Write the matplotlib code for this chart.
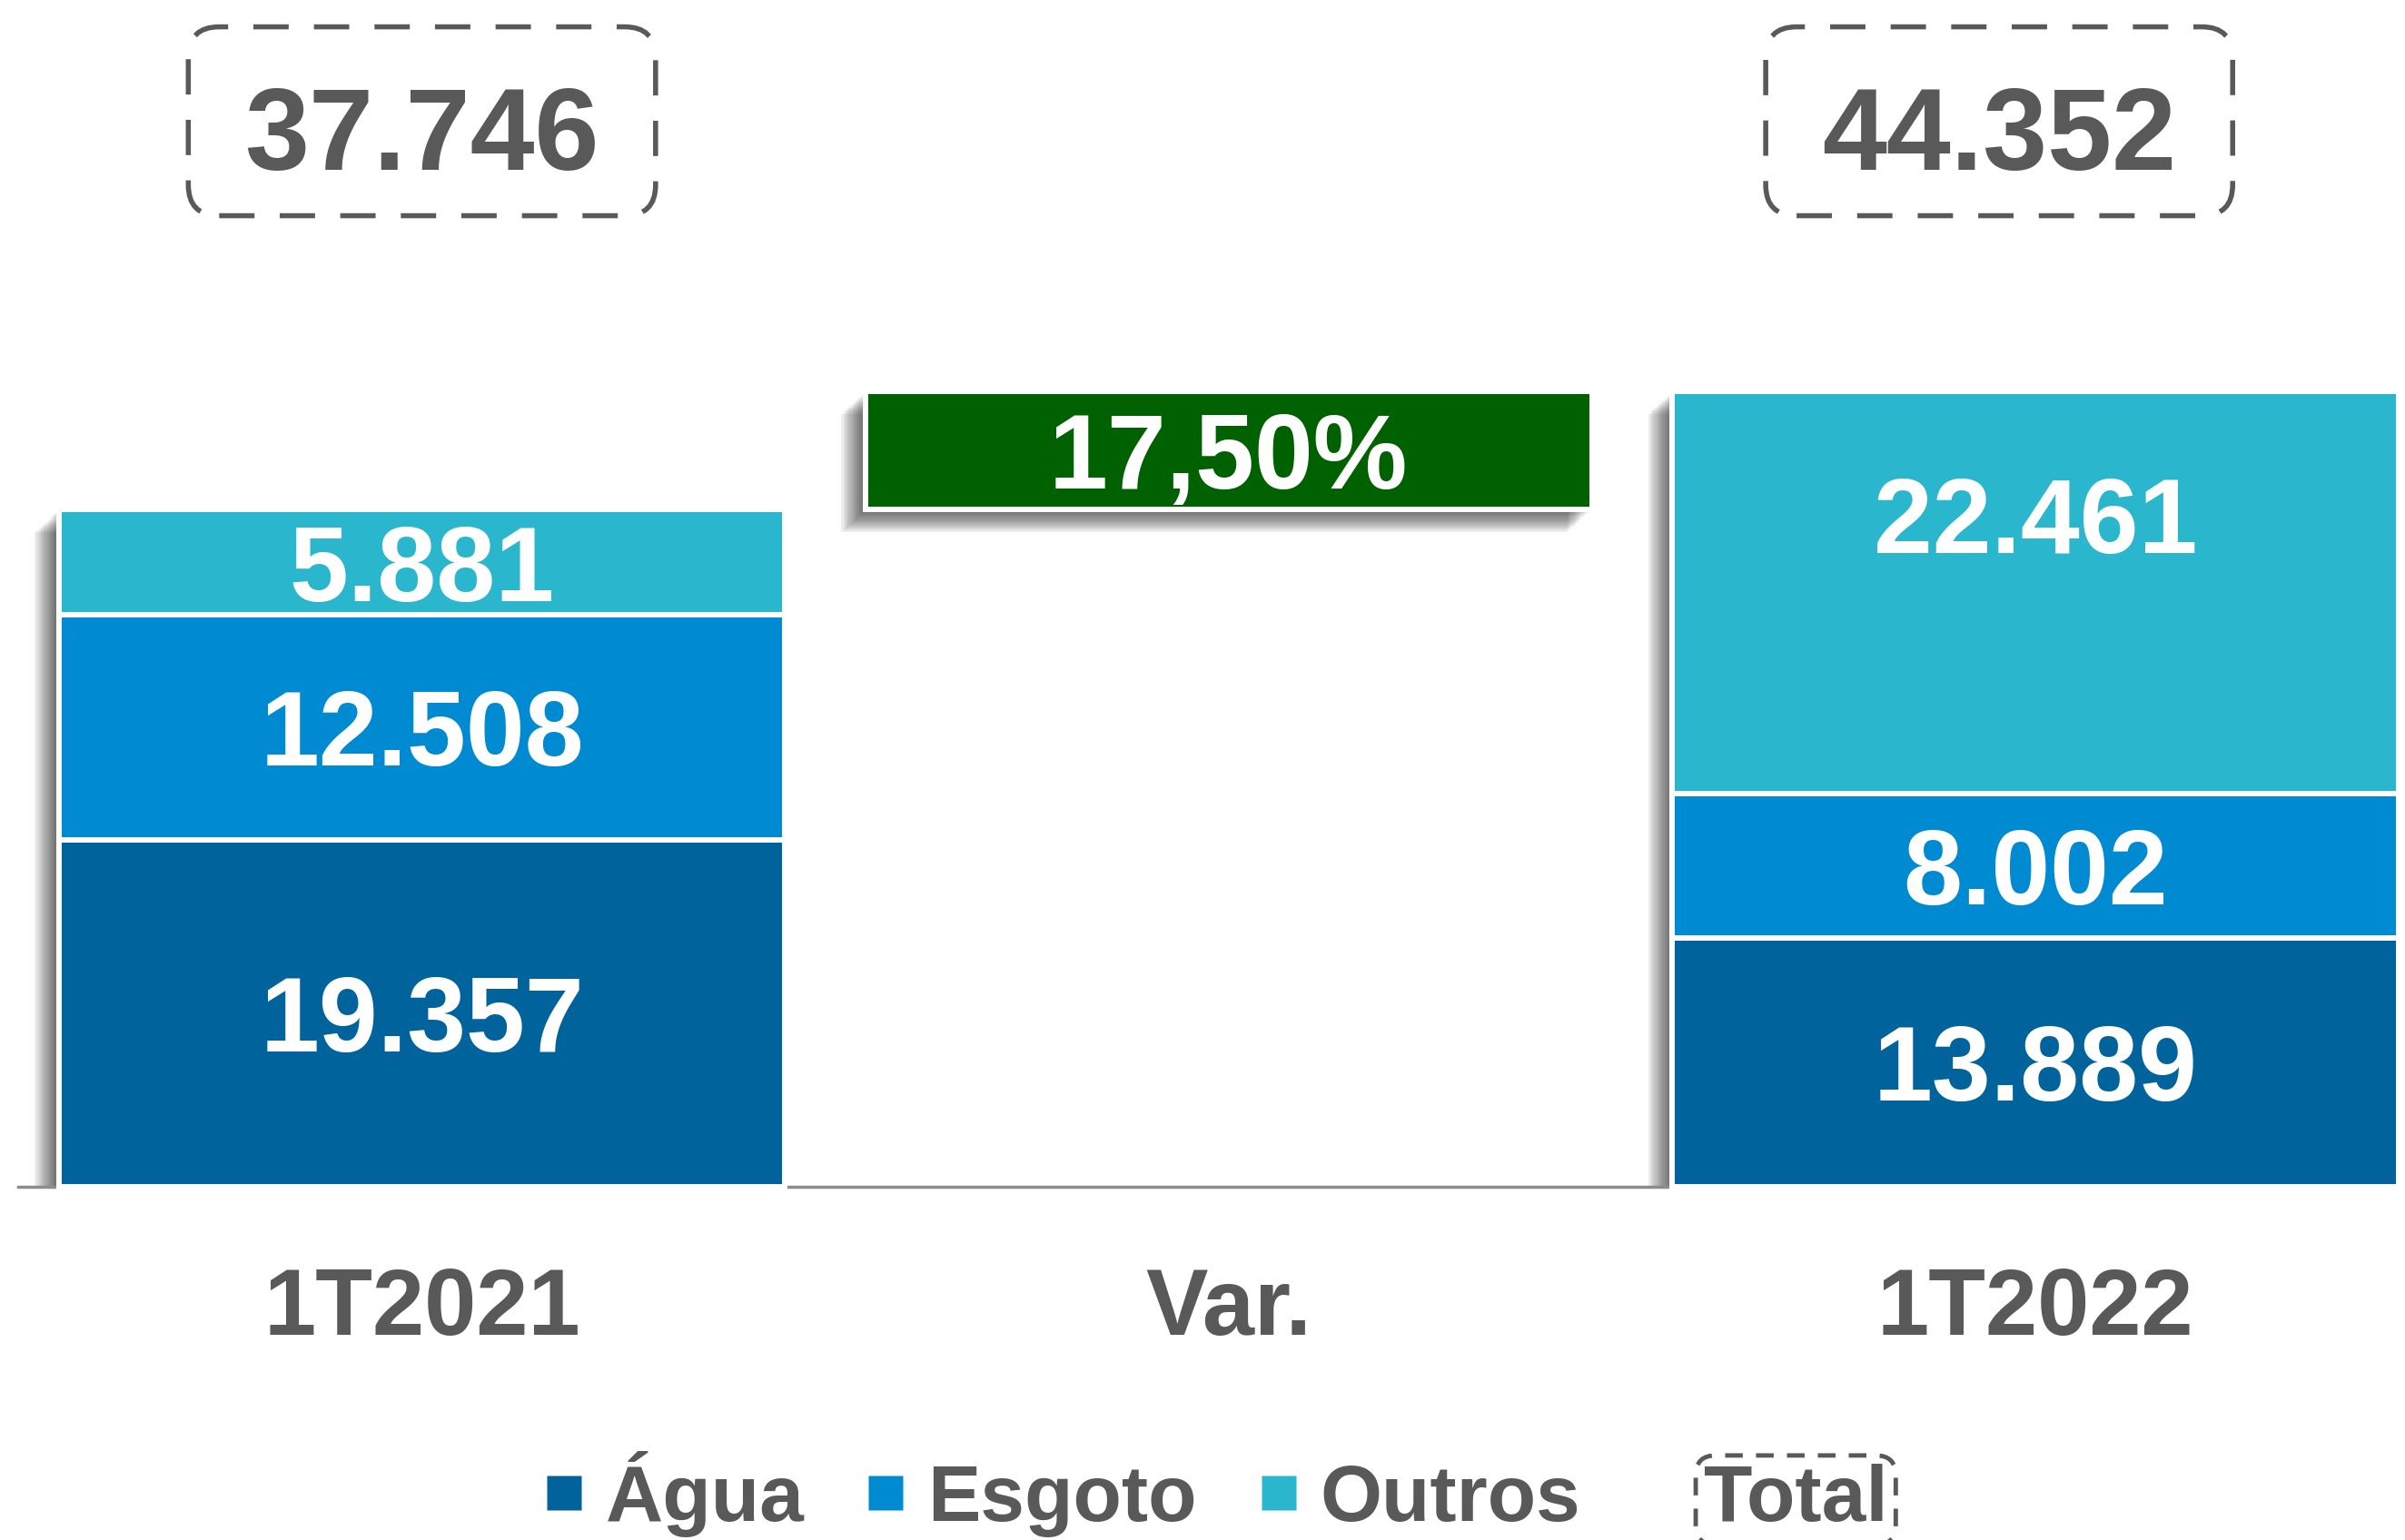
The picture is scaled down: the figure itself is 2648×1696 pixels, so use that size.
import matplotlib
matplotlib.use("Agg")
import matplotlib.pyplot as plt
from matplotlib.patches import Rectangle, FancyBboxPatch
from matplotlib.lines import Line2D
from matplotlib.transforms import IdentityTransform

plt.rcParams['font.family'] = ['Liberation Sans', 'DejaVu Sans']
plt.rcParams['font.weight'] = 'bold'

# ---- data ----
categories = ['1T2021', 'Var.', '1T2022']
series = ['Água', 'Esgoto', 'Outros']
agua = [19357, 13889]
esgoto = [12508, 8002]
outros = [5881, 22461]
totals = [37746, 44352]
var_label = '17,50%'
total_label = 'Total'

colors = {'Água': '#00639C', 'Esgoto': '#008AD2', 'Outros': '#2AB7CD'}
green = '#006100'
gray = '#595959'

def fmt(v):
    return f"{v:,}".replace(',', '.')

fig = plt.figure(figsize=(26.48, 16.96), dpi=100)
ax = fig.add_axes([0, 0, 1, 1])
ax.set_xlim(-0.523, 2.458)
ax.set_ylim(-19686, 66144)
ax.axis('off')

width = 0.9
bar_x = [0, 2]
var_x = 1
total_dx = [0.0, -0.045]   # layout nudge for the total boxes

def shadow(x0, y0, w, h, n=12, sx=0.0025, sy=105, alpha=0.065):
    for k in range(1, n + 1):
        bx = x0 - k * sx
        by = max(y0 - k * sy, 0) if y0 <= 1 else y0 - k * sy
        top = y0 + h - k * sy
        ax.add_patch(Rectangle((bx, by), w, top - by, facecolor='black',
                               edgecolor='none', alpha=alpha, zorder=1))

# baseline (runs up to the right-hand bar)
ax.axhline(0, xmin=0.0077, xmax=0.696, color='#8C8C8C', lw=2.5, zorder=1.5)

total_texts = []
# stacked bars
for i, xi in enumerate(bar_x):
    shadow(xi - width / 2, 0, width, totals[i])
    bottom = 0
    for name, vals in zip(series, [agua, esgoto, outros]):
        h = vals[i]
        ax.bar(xi, h, width=width, bottom=bottom, color=colors[name],
               edgecolor='white', linewidth=4.3, zorder=2)
        y = bottom + h / 2 if h < 20000 else bottom + h - 6900
        ax.text(xi, y, fmt(h), ha='center', va='center_baseline',
                color='white', fontsize=84, fontweight='bold', zorder=3)
        bottom += h
    t = ax.text(xi + total_dx[i], 0.890, fmt(totals[i]),
                transform=ax.get_xaxis_transform(),
                ha='center', va='baseline', color=gray, fontsize=92,
                fontweight='bold')
    total_texts.append(t)

# variation box
shadow(var_x - width / 2, totals[0], width, totals[1] - totals[0])
ax.bar(var_x, totals[1] - totals[0], width=width, bottom=totals[0],
       color=green, edgecolor='white', linewidth=4.3, zorder=2)
ax.text(var_x, (totals[0] + totals[1]) / 2, var_label, ha='center',
        va='center_baseline', color='white', fontsize=84,
        fontweight='bold', zorder=3)

# category labels
for xi, c in enumerate(categories):
    ax.text(xi, 0.1335, c, transform=ax.get_xaxis_transform(), ha='center',
            va='baseline', color=gray, fontsize=74, fontweight='bold')

# legend
handles = [Line2D([], [], ls='none', marker='s', markersize=28,
                  markerfacecolor=colors[s], markeredgecolor='none')
           for s in series]
handles.append(Line2D([], [], ls='none', marker=None))
leg = fig.legend(handles, series + [total_label], loc='center',
                 bbox_to_anchor=(0.506, 0.03), ncol=4, frameon=False,
                 fontsize=63, handlelength=0.45, handletextpad=0.30,
                 columnspacing=0.80, borderaxespad=0)
for t in leg.get_texts():
    t.set_color(gray)
    t.set_fontweight('bold')
leg.get_texts()[-1].set_bbox(dict(boxstyle='round,pad=0.1,rounding_size=0.25',
                                  facecolor='none', edgecolor=gray,
                                  linewidth=3.5, linestyle=(0, (4, 3))))

# dashed rounded boxes around the totals, sized from the rendered text
fig.canvas.draw()
renderer = fig.canvas.get_renderer()
pad_side, pad_top, pad_bot = 62, 64, 24
for t in total_texts:
    bb = t.get_window_extent(renderer)
    box = FancyBboxPatch((bb.x0 - pad_side, bb.y0 - pad_bot),
                         bb.width + 2 * pad_side,
                         bb.height + pad_top + pad_bot,
                         boxstyle='round,pad=0,rounding_size=34',
                         facecolor='none', edgecolor=gray, linewidth=4,
                         linestyle=(0, (7, 5)), transform=IdentityTransform())
    fig.add_artist(box)

fig.savefig('out.png', dpi=100)
